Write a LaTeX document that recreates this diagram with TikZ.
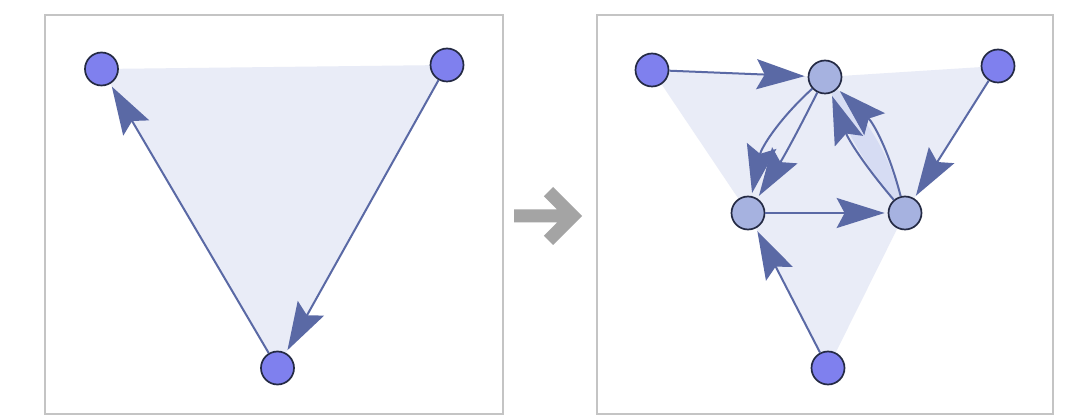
\documentclass[tikz,border=0pt]{standalone}
\usetikzlibrary{arrows.meta,backgrounds}
\definecolor{edgec}{HTML}{5A69A5}
\definecolor{darkn}{HTML}{7F80EE}
\definecolor{lightn}{HTML}{A6B2E0}
\definecolor{bordc}{HTML}{242A44}
\definecolor{facec}{HTML}{E9ECF7}
\definecolor{lensc}{HTML}{D6DCF3}
\definecolor{framec}{HTML}{C4C4C4}
\definecolor{bigarrow}{HTML}{A4A4A4}
\begin{document}
\begin{tikzpicture}[x=1pt,y=1pt,
  vtx/.style={circle,draw=bordc,line width=1.7pt,minimum size=33pt,inner sep=0pt},
  vdark/.style={vtx,fill=darkn},
  vlight/.style={vtx,fill=lightn},
  edge/.style={draw=edgec,line width=2pt,-{Stealth[length=48pt,width=30pt,inset=8pt]},shorten >=3pt},
  frame/.style={draw=framec,line width=2.4pt},
]
\useasboundingbox (0,0) rectangle (1077,415);
% vertices, left panel
\node[vdark] (L1) at (101.5,346) {};
\node[vdark] (L2) at (447,350) {};
\node[vdark] (L3) at (277.5,47) {};
% vertices, right panel
\node[vdark]  (A) at (652,345) {};
\node[vlight] (B) at (825,338) {};
\node[vdark]  (C) at (998,349) {};
\node[vlight] (D) at (748,202) {};
\node[vlight] (E) at (905,202) {};
\node[vdark]  (F) at (828,47) {};
\begin{scope}[on background layer]
  \fill[white] (0,0) rectangle (1077,415);
  \draw[frame] (45,1) rectangle (503,400);
  \draw[frame] (597,1) rectangle (1053,400);
  \fill[facec] (L1.center) -- (L2.center) -- (L3.center) -- cycle;
  \fill[facec] (A.center) -- (B.center) -- (C.center) -- (E.center) -- (F.center) -- (D.center) -- cycle;
  \fill[lensc] (E.center) to[bend right=16] (B.center) to[bend right=10] (E.center);
  \fill[bigarrow] (514,192.5) -- (557.1,192.5) -- (543.8,179.2) -- (553,170) -- (582,199)
     -- (553,228) -- (543.8,218.8) -- (557.1,205.5) -- (514,205.5) -- cycle;
\end{scope}
% edges, left panel
\draw[edge] (L3) -- (L1);
\draw[edge] (L2) -- (L3);
% edges, right panel
\draw[edge] (A) -- (B);
\draw[edge] (B) to[bend right=18] (D);
\draw[edge] (B) to[bend left=3] (D);
\draw[edge] (E) to[bend right=16] (B);
\draw[edge] (E) to[bend left=10] (B);
\draw[edge] (D) -- (E);
\draw[edge] (C) -- (E);
\draw[edge] (F) -- (D);
\end{tikzpicture}
\end{document}
